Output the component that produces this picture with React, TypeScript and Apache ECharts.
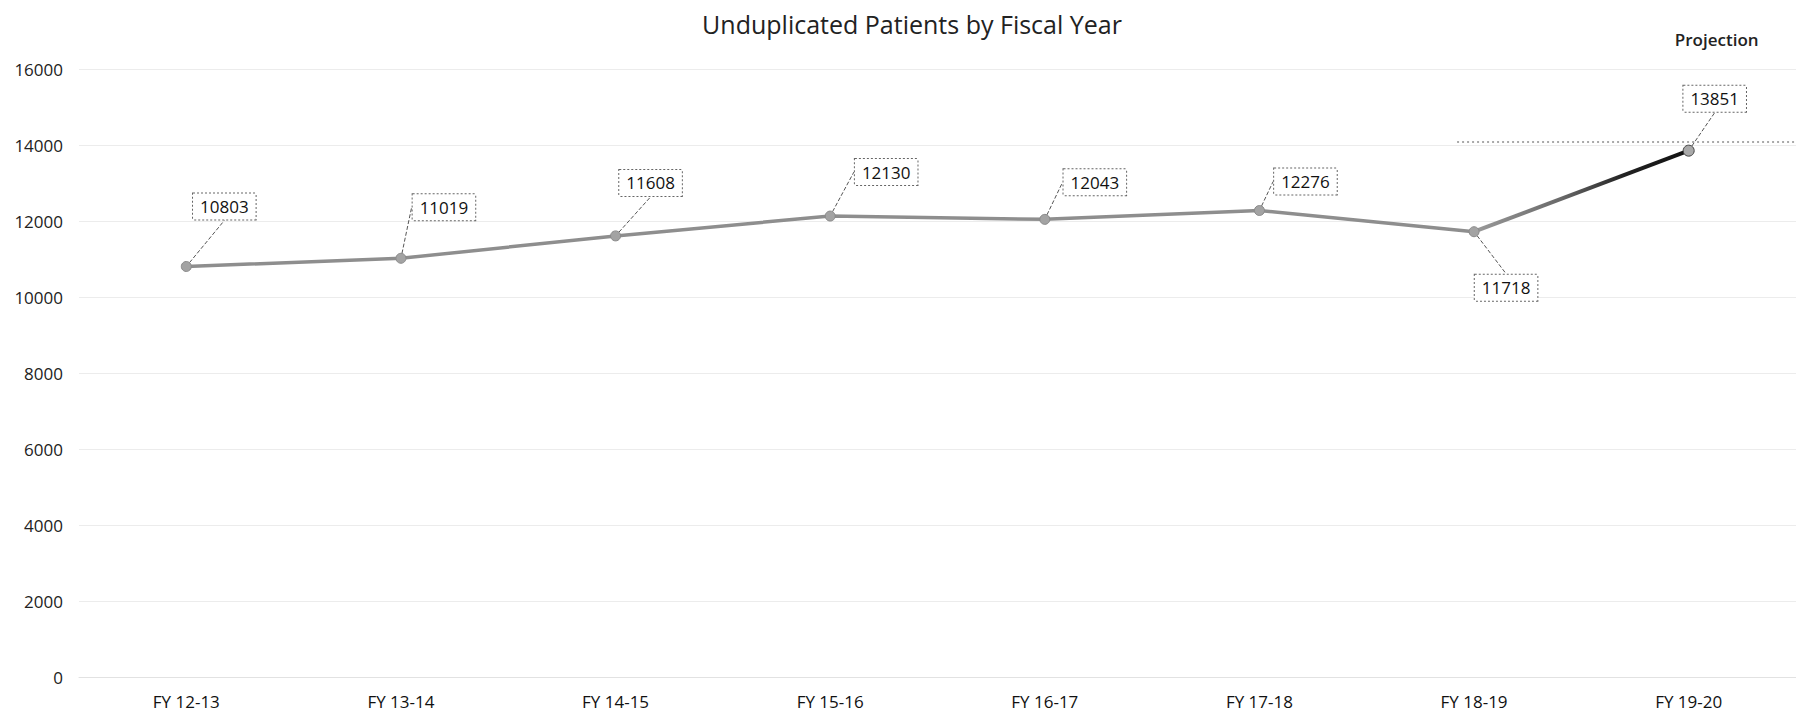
import React, { useEffect, useRef } from "react";
import * as echarts from "echarts";

const categories = ["FY 12-13", "FY 13-14", "FY 14-15", "FY 15-16", "FY 16-17", "FY 17-18", "FY 18-19", "FY 19-20"];
const actualPatients = [10803, 11019, 11608, 12130, 12043, 12276, 11718];
const projectedPatients = [13851];
const yTicks = { min: 0, max: 16000, interval: 2000 };
const titleText = "Unduplicated Patients by Fiscal Year";
const projectionText = "Projection";

// label offsets (pixels) from each point, for the callouts
const labelOffsets = [
  [38, -60], [43, -51], [35, -53], [56, -44], [50, -37], [46, -29], [32, 56], [26, -52],
];

const FONT = "'Open Sans', 'Noto Sans', sans-serif";

export default function App() {
  const ref = useRef<HTMLDivElement>(null);
  useEffect(() => {
    document.body.style.margin = "0";
    const chart = echarts.init(ref.current!, undefined, { renderer: "svg" });
    const n = categories.length;
    const lastActual = actualPatients.length - 1;
    const mainData = categories.map((_, i) => (i < actualPatients.length ? actualPatients[i] : "-"));
    const projData = categories.map((_, i) => {
      if (i === lastActual) return { value: actualPatients[i], symbol: "none", label: { show: false } };
      if (i > lastActual) return projectedPatients[i - actualPatients.length];
      return "-";
    });
    const labelBox = {
      show: true,
      position: "inside",
      color: "#111",
      fontFamily: FONT,
      fontSize: 17,
      backgroundColor: "#fff",
      borderColor: "#666",
      borderWidth: 1,
      borderType: "dotted",
      padding: [5, 7, 4, 7],
    };
    chart.setOption({
      animation: false,
      backgroundColor: "#fff",
      textStyle: { fontFamily: FONT },
      title: {
        text: titleText,
        left: 907,
        top: 6,
        textAlign: "center",
        textStyle: { fontFamily: FONT, fontSize: 25, fontWeight: "normal", color: "#222" },
      },
      grid: { left: 79, top: 69, width: 1727, height: 608, containLabel: false },
      xAxis: {
        type: "category",
        data: categories,
        boundaryGap: true,
        axisLine: { show: true, lineStyle: { color: "#e2e2e2", width: 1 } },
        axisTick: { show: false },
        axisLabel: { color: "#111", fontSize: 17, fontFamily: FONT, margin: 16 },
        splitLine: { show: false },
      },
      yAxis: {
        type: "value",
        min: yTicks.min,
        max: yTicks.max,
        interval: yTicks.interval,
        axisLine: { show: false },
        axisTick: { show: false },
        axisLabel: { color: "#222", fontSize: 17, fontFamily: FONT, margin: 16, formatter: (v: number) => String(v) },
        splitLine: { lineStyle: { color: "#ececec", width: 1 } },
      },
      series: [
        {
          name: "Actual",
          type: "line",
          data: mainData,
          symbol: "circle",
          symbolSize: 10,
          itemStyle: { color: "#a3a3a3", borderColor: "#8a8a8a", borderWidth: 1 },
          lineStyle: { color: "#8e8e8e", width: 3.5 },
          label: { ...labelBox },
          labelLine: { show: true, lineStyle: { color: "#555", width: 1, type: "dashed" } },
          labelLayout: (p: any) => {
            const o = labelOffsets[p.dataIndex] || [0, -40];
            return { dx: o[0], dy: o[1], hideOverlap: false };
          },
          z: 4,
        },
        {
          name: "Projection",
          type: "line",
          data: projData,
          symbol: "circle",
          symbolSize: 11,
          showSymbol: true,
          itemStyle: { color: "#a9a9a9", borderColor: "#444", borderWidth: 1 },
          lineStyle: {
            width: 4,
            color: new echarts.graphic.LinearGradient(0, 0, 1, 0, [
              { offset: 0, color: "#9a9a9a" },
              { offset: 0.4, color: "#6a6a6a" },
              { offset: 0.7, color: "#222" },
              { offset: 1, color: "#111" },
            ]),
          },
          label: { ...labelBox },
          labelLine: { show: true, lineStyle: { color: "#555", width: 1, type: "dashed" } },
          labelLayout: (p: any) => {
            const o = labelOffsets[p.dataIndex] || [0, -40];
            return { dx: o[0], dy: o[1], hideOverlap: false };
          },
          z: 3,
        },
      ],
    });
    // Projection header and the dotted reference line near the projected value
    const yRef = chart.convertToPixel({ yAxisIndex: 0 }, 14000) as number;
    const xStart = (chart.convertToPixel({ xAxisIndex: 0 }, categories[n - 2]) as number) - 17;
    const xProj = chart.convertToPixel({ xAxisIndex: 0 }, categories[n - 1]) as number;
    chart.setOption({
      graphic: [
        {
          type: "text",
          x: xProj + 28,
          y: 39,
          style: {
            text: projectionText,
            fontFamily: FONT,
            fontSize: 17,
            fontWeight: 600,
            fill: "#222",
            textAlign: "center",
            textVerticalAlign: "middle",
          },
        },
        {
          type: "line",
          shape: { x1: xStart, y1: yRef - 3, x2: 1796, y2: yRef - 3 },
          style: { stroke: "#555", lineWidth: 1, lineDash: [2, 3] },
          z: 1,
        },
      ],
    });
    return () => chart.dispose();
  }, []);
  return <div ref={ref} style={{ width: 1796, height: 720 }} />;
}
